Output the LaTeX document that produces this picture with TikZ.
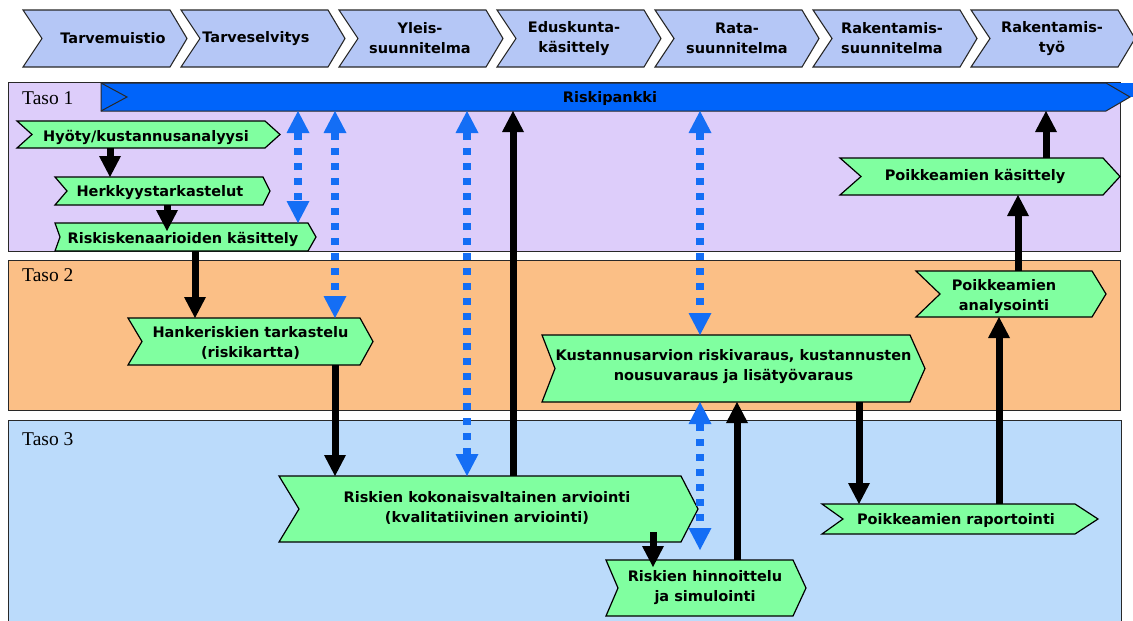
\documentclass[tikz,border=0pt]{standalone}
\usepackage{fontspec}
\setmainfont{DejaVu Sans}
\newfontfamily\tasofont{Liberation Serif}
\usetikzlibrary{arrows.meta,calc}
\definecolor{chevblue}{RGB}{181,199,246}
\definecolor{lav}{RGB}{221,205,250}
\definecolor{peach}{RGB}{251,191,134}
\definecolor{skyb}{RGB}{187,219,251}
\definecolor{mint}{RGB}{128,255,160}
\definecolor{pankblue}{RGB}{0,100,250}
\definecolor{dotblue}{RGB}{20,110,245}
\definecolor{edgec}{RGB}{40,40,40}
\tikzset{
 lbl/.style={font=\fontsize{14.5}{20}\selectfont\bfseries, align=center, text=black, inner sep=0pt},
 boxn/.style={draw=none, inner sep=0pt, outer sep=0pt, rectangle},
 gshape/.style={fill=mint, draw=black, line width=1.2pt, line join=miter},
 cshape/.style={fill=chevblue, draw=edgec, line width=1.1pt},
 band/.style={draw=edgec, line width=1pt},
 blk/.style={line width=7pt, draw=black, -{Triangle[width=22pt,length=21pt,line width=0pt]}},
 dbl/.style={line width=7.5pt, draw=dotblue, dash pattern=on 7pt off 8pt,
   {Triangle[width=23pt,length=22pt,line width=0pt]}-{Triangle[width=23pt,length=22pt,line width=0pt]}},
 taso/.style={font={\tasofont\fontsize{19.5}{22}\selectfont}, anchor=west, inner sep=0pt},
}
% green chevron node: name, xl, yt, xr(tip), yb, notch, tip, text, text shift options
\newcommand\gnode[9]{%
 \path[gshape] (#2,#3) -- ({#4-#7},#3) -- (#4,{(#3+#5)/2}) -- ({#4-#7},#5) -- (#2,#5) -- ({#2+#6},{(#3+#5)/2}) -- cycle;
 \node[boxn, minimum width={(#4-#2)*1pt}, minimum height={(#5-#3)*1pt}] (#1) at ({(#2+#4)/2},{(#3+#5)/2}) {};
 \node[lbl, #9] (#1t) at (#1.center) {#8};
}
% top chevron: name, xl, text, text x
\newcommand\tchev[4]{%
 \path[cshape] (#2,10) -- ({#2+147},10) -- ({#2+164},38.5) -- ({#2+147},67) -- (#2,67) -- ({#2+19},38.5) -- cycle;
 \node[boxn, minimum width=164pt, minimum height=57pt] (#1) at ({#2+82},38.5) {};
 \node[lbl] (#1t) at (#4,38.5) {#3};
}
\begin{document}
\begin{tikzpicture}[x=1pt,y=-1pt]
\useasboundingbox (0,0) rectangle (1133,621);
\fill[white] (0,0) rectangle (1133,621);

% phase chevrons
\tchev{c1}{23}{Tarvemuistio}{113}
\tchev{c2}{181}{Tarveselvitys}{256}
\tchev{c3}{339}{Yleis-\\suunnitelma}{420}
\tchev{c4}{497}{Eduskunta-\\käsittely}{574}
\tchev{c5}{655}{Rata-\\suunnitelma}{737}
\tchev{c6}{813}{Rakentamis-\\suunnitelma}{892}
\tchev{c7}{971}{Rakentamis-\\työ}{1052}

% level bands
\path[band, fill=lav] (8,82) rectangle (1120,251);
\path[band, fill=peach] (8,260) rectangle (1120,410);
\fill[skyb] (8,420) rectangle (1121,625);
\draw[band] (8,625) -- (8,420) -- (1121,420) -- (1121,625);
\node[taso] (t1) at (22,98) {Taso 1};
\node[taso] (t2) at (22,275) {Taso 2};
\node[taso] (t3) at (22,439) {Taso 3};

% risk bank bar
\fill[pankblue] (1106,83) rectangle (1133,97);
\path[fill=pankblue, draw=edgec, line width=1pt] (101,83) -- (1106,83) -- (1130,97) -- (1106,111) -- (101,111) -- cycle;
\draw[edgec, line width=1pt] (101,83) -- (127,97) -- (101,111);
\node[boxn, minimum width=1029pt, minimum height=28pt] (pankki) at (615.5,97) {};
\node[lbl] (pankkit) at (610,98) {Riskipankki};

% process steps
\gnode{hyoty}{17}{121}{280}{148}{15}{15}{Hyöty/kustannusanalyysi}{xshift=-2.5pt,yshift=-2.5pt}
\gnode{herk}{55}{177}{270}{205}{12}{7}{Herkkyystarkastelut}{xshift=-2.5pt,yshift=-1.5pt}
\gnode{risk}{55}{223}{316}{251}{5}{8}{Riskiskenaarioiden käsittely}{xshift=-2.5pt,yshift=-2pt}
\gnode{hank}{128}{318}{373}{365}{14}{13}{Hankeriskien tarkastelu\\(riskikartta)}{yshift=-1pt}
\gnode{kust}{542}{335}{925}{402}{13}{15}{Kustannusarvion riskivaraus, kustannusten\\nousuvaraus ja lisätyövaraus}{yshift=2pt}
\gnode{kok}{279}{476}{698}{542}{20}{17}{Riskien kokonaisvaltainen arviointi\\(kvalitatiivinen arviointi)}{xshift=-1.5pt,yshift=1pt}
\gnode{hinn}{606}{560}{806}{616}{12}{13}{Riskien hinnoittelu\\ja simulointi}{xshift=-1pt}
\gnode{rap}{822}{504}{1098}{534}{21}{23}{Poikkeamien raportointi}{xshift=-4pt,yshift=-1.5pt}
\gnode{kas}{840}{158}{1120}{195}{21}{17}{Poikkeamien käsittely}{xshift=-5pt}
\gnode{ana}{916}{271}{1106}{317}{24}{14}{Poikkeamien\\analysointi}{xshift=-7pt,yshift=-3pt}

% connector x positions
\coordinate (xa) at (110,0);
\coordinate (xb) at (167,0);
\coordinate (xc) at (195,0);
\coordinate (xd) at (298,0);
\coordinate (xe) at (335,0);
\coordinate (xf) at (467,0);
\coordinate (xg) at (513,0);
\coordinate (xh) at (653,0);
\coordinate (xi) at (700,0);
\coordinate (xj) at (737,0);
\coordinate (xk) at (859,0);
\coordinate (xl) at (999,0);
\coordinate (xm) at (1018,0);
\coordinate (xn) at (1046,0);

% blue two-way links
\draw[dbl] (pankki.south -| xd) -- (risk.north -| xd);
\draw[dbl] (pankki.south -| xe) -- (hank.north -| xe);
\draw[dbl] (pankki.south -| xf) -- (kok.north -| xf);
\draw[dbl] (pankki.south -| xi) -- (kust.north -| xi);
\draw[dbl, shorten >=10pt] (kust.south -| xi) -- (hinn.north -| xi);

% black flows
\draw[blk] (hyoty.south -| xa) -- (herk.north -| xa);
\draw[blk, shorten >=-8pt] (herk.south -| xb) -- (risk.north -| xb);
\draw[blk] (risk.south -| xc) -- (hank.north -| xc);
\draw[blk] (hank.south -| xe) -- (kok.north -| xe);
\draw[blk] (kok.north -| xg) -- (pankki.south -| xg);
\draw[blk, shorten <=-10pt, shorten >=-7pt] (kok.south -| xh) -- (hinn.north -| xh);
\draw[blk] (hinn.north -| xj) -- (kust.south -| xj);
\draw[blk] (kust.south -| xk) -- (rap.north -| xk);
\draw[blk] (rap.north -| xl) -- (ana.south -| xl);
\draw[blk] (ana.north -| xm) -- (kas.south -| xm);
\draw[blk] (kas.north -| xn) -- (pankki.south -| xn);
\end{tikzpicture}
\end{document}
